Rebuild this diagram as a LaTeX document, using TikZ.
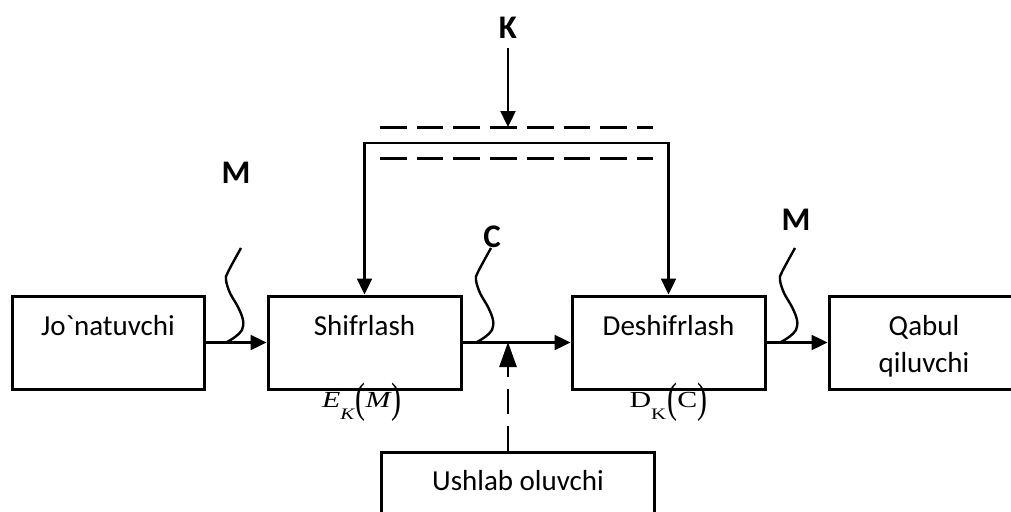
\documentclass[tikz,border=0pt]{standalone}
\usepackage{fontspec}
\usepackage{graphicx}
\setmainfont{Carlito}
\newfontfamily\tnr{Liberation Serif}
\usetikzlibrary{arrows.meta}
\newcommand{\tallparen}[1]{\raisebox{-5pt}{\scalebox{1.0}[1.85]{#1}}}
\begin{document}
\begin{tikzpicture}[x=1pt,y=-1pt,
  box/.style={draw, line width=3pt, inner sep=0pt, minimum height=93pt},
  txt/.style={inner sep=0pt, anchor=base, font=\fontsize{29}{37}\selectfont, align=center},
  lbl/.style={inner sep=0pt, anchor=base, font=\fontsize{33}{33}\selectfont\bfseries},
  frm/.style={inner sep=0pt, anchor=base},
  arr/.style={line width=2.4pt, -{Triangle[length=16pt,width=15pt]}},
  dline/.style={line width=3pt, dash pattern=on 26.7pt off 10pt},
  darr/.style={line width=2.6pt, dash pattern=on 25pt off 12pt, -{Triangle[length=25pt,width=17pt]}},
  squig/.style={line width=2.4pt}
]
\useasboundingbox (0,0) rectangle (1011,511);
\clip (0,0) rectangle (1011,511);

% boxes
\node[box, minimum width=192pt] (jon) at (108,342.5) {};
\node[box, minimum width=193pt] (shifr) at (364.5,342.5) {};
\node[box, minimum width=193pt] (deshifr) at (668.5,342.5) {};
\node[box, minimum width=190pt] (qabul) at (924,342.5) {};
\node[box, minimum width=273pt, minimum height=100pt] (ush) at (517.5,502) {};

% box texts
\node[txt] (jont) at (108,335) {Jo\textasciigrave natuvchi};
\node[txt] (shifrt) at (364.5,335) {Shifrlash};
\node[txt] (deshifrt) at (668.5,335) {Deshifrlash};
\node[txt] (qabult) at (924,372) {Qabul\\qiluvchi};
\node[txt] (usht) at (518,490) {Ushlab oluvchi};

% formulas
\node[frm] (ek) at (362,407) {\scalebox{1.3}[1]{\tnr\fontsize{23}{23}\selectfont\itshape E\raisebox{-12pt}{\fontsize{16}{16}\selectfont K}\hspace{1pt}\tallparen{\upshape(}M\hspace{1pt}\tallparen{\upshape)}}};
\node[frm] (dk) at (668.5,407) {\scalebox{1.3}[1]{\tnr\fontsize{23}{23}\selectfont D\raisebox{-12pt}{\fontsize{16}{16}\selectfont K}\hspace{1pt}\tallparen{(}C\tallparen{)}}};

% labels
\node[lbl] (m1) at (236,183) {M};
\node[lbl] (k) at (508,38) {K};
\node[lbl] (c) at (492,247) {C};
\node[lbl] (m2) at (796,230) {M};

% coordinates
\coordinate (s1) at (227,342);
\coordinate (s2) at (477,342);
\coordinate (s3) at (781,342);
\coordinate (tap) at (508,342);
\coordinate (kbar) at (508,143);
\coordinate (kdash) at (508,127);

% main flow
\draw[arr] (jon.east) -- (shifr.west);
\draw[arr] (shifr.east) -- (deshifr.west);
\draw[arr] (deshifr.east) -- (qabul.west);

% key distribution
\draw[line width=2.4pt, {Triangle[length=16pt,width=15pt]}-{Triangle[length=16pt,width=15pt]}]
  (shifr.north) |- (kbar) -| (deshifr.north);
\draw[dline] (380,127) -- (653,127);
\draw[dline] (380,158) -- (653,158);
\draw[arr] ([yshift=-10pt]k.south) -- (kdash);

% interceptor
\draw[darr] (tap |- ush.north) -- (tap);

% squiggles
\foreach \p in {s1,s2,s3}{
  \draw[squig, shift={(\p)}] plot[smooth, tension=0.6] coordinates
    {(0,0) (8,-5) (15,-12) (16,-22) (11,-35) (3,-49) (-1,-62) (1,-70) (14,-94)};
}
\end{tikzpicture}
\end{document}
